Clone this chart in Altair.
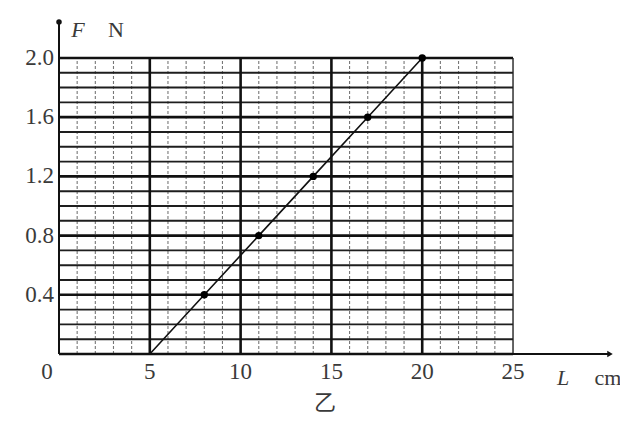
import altair as alt
import pandas as pd

# ---- data ----
L_pts = [8, 11, 14, 17, 20]
F_pts = [0.4, 0.8, 1.2, 1.6, 2.0]
L_line = [5, 8, 11, 14, 17, 20]
F_line = [0.0, 0.4, 0.8, 1.2, 1.6, 2.0]
x_ticks = [5, 10, 15, 20, 25]
x_tick_labels = ["5", "10", "15", "20", "25"]
x_zero_label = ["0"]
y_ticks = [0.4, 0.8, 1.2, 1.6, 2.0]
y_tick_labels = ["0.4", "0.8", "1.2", "1.6", "2.0"]
grid_x = list(range(0, 26))            # 1 cm grid
grid_y = [round(i * 0.1, 1) for i in range(21)]  # 0.1 N grid
grid_x_max = 25
grid_y_max = 2.0
x_axis_end = 30.34
y_axis_end = 2.243

xs = alt.Scale(domain=[0, x_axis_end], nice=False, zero=False)
ys = alt.Scale(domain=[0, y_axis_end], nice=False, zero=False)
SERIF = "Liberation Serif"
TXT = "#3a3a3a"


def X(f):
    return alt.X(f, scale=xs, axis=None)


def Y(f):
    return alt.Y(f, scale=ys, axis=None)


gx = pd.DataFrame({"x": grid_x})
gx["y0"] = 0.0
gx["y1"] = grid_y_max
gy = pd.DataFrame({"y": grid_y})
gy["x0"] = 0.0
gy["x1"] = float(grid_x_max)

vminor_df = gx[gx["x"] % 5 != 0]
vmajor_df = gx[(gx["x"] % 5 == 0) & (gx["x"] > 0) & (gx["x"] < 25)]
vright_df = gx[gx["x"] == 25]
is_major_y = [abs(v / 0.4 - round(v / 0.4)) < 1e-6 for v in grid_y]
hmajor_df = gy[is_major_y]
hminor_df = gy[[not m for m in is_major_y]]

vminor = alt.Chart(vminor_df).mark_rule(
    color="#777", strokeWidth=1.1, strokeDash=[3, 2]
).encode(x=X("x:Q"), y=Y("y0:Q"), y2="y1:Q")

vmajor = alt.Chart(vmajor_df).mark_rule(color="#111", strokeWidth=2.6).encode(
    x=X("x:Q"), y=Y("y0:Q"), y2="y1:Q")

vright = alt.Chart(vright_df).mark_rule(color="#222", strokeWidth=1.4).encode(
    x=X("x:Q"), y=Y("y0:Q"), y2="y1:Q")

hminor = alt.Chart(hminor_df).mark_rule(color="#1e1e1e", strokeWidth=1.9).encode(
    y=Y("y:Q"), x=X("x0:Q"), x2="x1:Q")

hmajor = alt.Chart(hmajor_df).mark_rule(color="#111", strokeWidth=2.6).encode(
    y=Y("y:Q"), x=X("x0:Q"), x2="x1:Q")

# axes
xaxis = alt.Chart(pd.DataFrame({"a": [0.0], "b": [x_axis_end], "y": [0.0]})).mark_rule(
    color="#111", strokeWidth=2).encode(x=X("a:Q"), x2="b:Q", y=Y("y:Q"))
yaxis = alt.Chart(pd.DataFrame({"a": [0.0], "b": [y_axis_end], "x": [0.0]})).mark_rule(
    color="#111", strokeWidth=2).encode(y=Y("a:Q"), y2="b:Q", x=X("x:Q"))
xarrow = alt.Chart(pd.DataFrame({"x": [x_axis_end], "y": [0.0]})).mark_point(
    shape="triangle-right", filled=True, color="#111", size=40, opacity=1
).encode(x=X("x:Q"), y=Y("y:Q"))
yarrow = alt.Chart(pd.DataFrame({"x": [0.0], "y": [y_axis_end]})).mark_point(
    shape="circle", filled=True, color="#111", size=30, opacity=1
).encode(x=X("x:Q"), y=Y("y:Q"))

# data line and points
line = alt.Chart(pd.DataFrame({"L": L_line, "F": F_line})).mark_line(
    color="#111", strokeWidth=1.6).encode(x=X("L:Q"), y=Y("F:Q"))
pts = alt.Chart(pd.DataFrame({"L": L_pts, "F": F_pts})).mark_point(
    filled=True, color="#000", size=55, opacity=1).encode(x=X("L:Q"), y=Y("F:Q"))

# tick labels
ylab = alt.Chart(pd.DataFrame({"y": y_ticks, "t": y_tick_labels, "x": [0.0] * 5})).mark_text(
    font=SERIF, fontSize=23, align="right", baseline="middle", dx=-5, color=TXT
).encode(y=Y("y:Q"), x=X("x:Q"), text="t:N")
xlab = alt.Chart(pd.DataFrame({"x": x_ticks, "t": x_tick_labels, "y": [0.0] * 5})).mark_text(
    font=SERIF, fontSize=23, align="center", baseline="middle", dy=18, color=TXT
).encode(x=X("x:Q"), y=Y("y:Q"), text="t:N")
x0lab = alt.Chart(pd.DataFrame({"x": [0.0], "t": x_zero_label, "y": [0.0]})).mark_text(
    font=SERIF, fontSize=23, align="center", baseline="middle", dy=18, dx=-12, color=TXT
).encode(x=X("x:Q"), y=Y("y:Q"), text="t:N")


def label(txt, px, py, size=20, style="normal", font=SERIF):
    return alt.Chart(pd.DataFrame({"t": [txt]})).mark_text(
        font=font, fontSize=size, fontStyle=style, align="center",
        baseline="middle", color=TXT
    ).encode(x=alt.value(px), y=alt.value(py), text="t:N")


titles = [
    label("F", 19, 8, 22, "italic"),
    label("N", 57, 8, 22),
    label("L", 504, 356, 22, "italic"),
    label("cm", 549, 356, 22),
    label("乙", 266, 381, 22, "normal", "Noto Sans CJK SC"),
]

chart = alt.layer(
    vminor, hminor, hmajor, vmajor, vright, xaxis, yaxis, xarrow, yarrow,
    line, pts, ylab, xlab, x0lab, *titles
).properties(
    width=551, height=332,
    autosize=alt.AutoSizeParams(type="none"),
    padding={"left": 51, "top": 14, "right": 10, "bottom": 62},
    background="white",
).configure_view(stroke=None)

chart.save("out.html", embed_options={"renderer": "svg", "actions": False})
